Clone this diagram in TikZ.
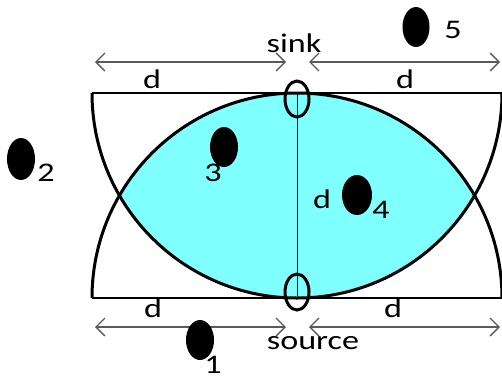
\documentclass[tikz,border=0pt]{standalone}
\usepackage{fontspec}
\usepackage{graphicx}
\setmainfont{Carlito}
\usetikzlibrary{arrows.meta}
\definecolor{lens}{RGB}{128,255,255}
\definecolor{arr}{RGB}{90,90,90}
\newcommand\wtxt[1]{\scalebox{1.27}[1]{#1}}
\tikzset{
  lbl/.style={inner sep=0pt, font=\fontsize{27}{27}\selectfont},
  dot/.style={fill=black},
  dim/.style={draw=arr, line width=1.3bp, {Straight Barb[length=9bp,width=18bp]}-{Straight Barb[length=9bp,width=18bp]}},
  big/.style={line width=3bp},
  base/.style={line width=1.4bp},
}
\begin{document}
\begin{tikzpicture}[x=1bp,y=-1bp]
\useasboundingbox (0,0) rectangle (502,380);
% key points
\coordinate (sink) at (297,93);
\coordinate (source) at (297,298);
\coordinate (tl) at (92,93);
\coordinate (tr) at (502,93);
\coordinate (bl) at (92,298);
\coordinate (br) at (502,298);
% lens
\begin{scope}
  \clip (sink) circle[radius=205bp];
  \fill[lens] (source) circle[radius=205bp];
\end{scope}
% base lines
\draw[base] (tl) -- (tr);
\draw[base] (bl) -- (br);
\draw[line width=1bp] (sink) -- (source);
% arcs
\draw[big] (tl) arc[start angle=180,end angle=360,radius=205bp];
\draw[big] (bl) arc[start angle=180,end angle=0,radius=205bp];
% ellipses at sink/source
\draw[big] (297,99) ellipse[x radius=12bp,y radius=18bp];
\draw[big] (297,292) ellipse[x radius=12bp,y radius=18bp];
% dimension arrows
\coordinate (a1) at (95,62); \coordinate (a2) at (286,62);
\coordinate (a3) at (309,62); \coordinate (a4) at (500,62);
\coordinate (b1) at (95,327); \coordinate (b2) at (286,327);
\coordinate (b3) at (309,327); \coordinate (b4) at (500,327);
\draw[dim] (a1) -- (a2);
\draw[dim] (a3) -- (a4);
\draw[dim] (b1) -- (b2);
\draw[dim] (b3) -- (b4);
% labels
\node[lbl] (lsink) at (294,43) {\wtxt{sink}};
\node[lbl] (lsource) at (313,343) {\wtxt{source}};
\node[lbl] (d1) at (152,79) {\wtxt{d}};
\node[lbl] (d2) at (405,79) {\wtxt{d}};
\node[lbl] (d3) at (153,308) {\wtxt{d}};
\node[lbl] (d4) at (393,308) {\wtxt{d}};
\node[lbl] (d5) at (322,199) {\wtxt{d}};
% dots
\fill[dot] (416,27) ellipse[x radius=13.5bp,y radius=20bp];
\fill[dot] (21,159) ellipse[x radius=14bp,y radius=21bp];
\fill[dot] (224,147) ellipse[x radius=14bp,y radius=20bp];
\fill[dot] (357,195) ellipse[x radius=15bp,y radius=20bp];
\fill[dot] (200,340) ellipse[x radius=14bp,y radius=20bp];
\node[lbl] (n5) at (453,30) {\wtxt{5}};
\node[lbl] (n2) at (46,173) {\wtxt{2}};
\node[lbl] (n3) at (213,173) {\wtxt{3}};
\node[lbl] (n4) at (381,210) {\wtxt{4}};
\node[lbl] (n1) at (213,365) {\wtxt{1}};
\end{tikzpicture}
\end{document}
